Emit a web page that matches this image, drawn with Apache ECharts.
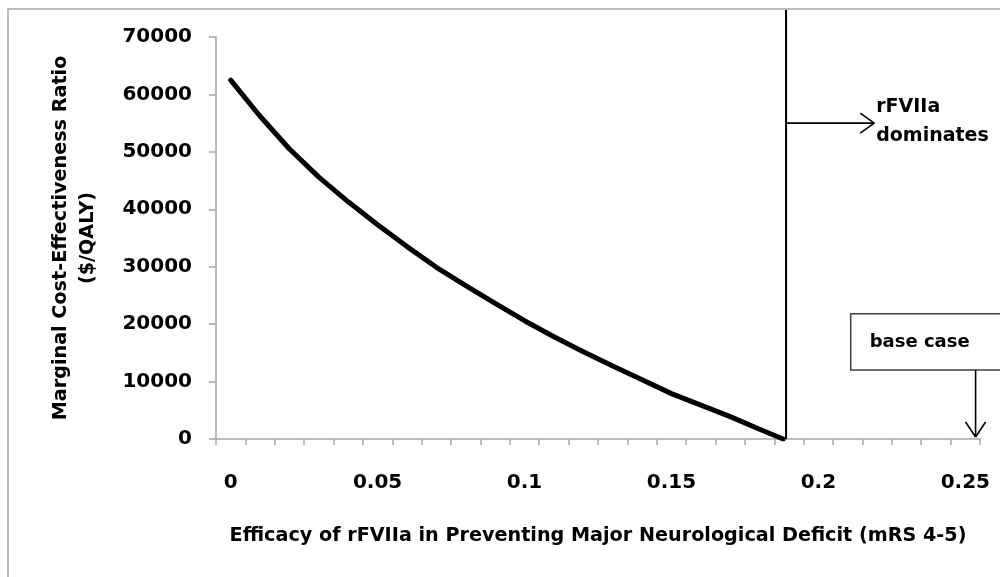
<!DOCTYPE html>
<html>
<head>
<meta charset="utf-8">
<script src="https://cdn.jsdelivr.net/npm/echarts@6/dist/echarts.min.js"></script>
<style>
html,body{margin:0;padding:0;background:#ffffff;}
#chart{width:1000px;height:577px;}
</style>
</head>
<body>
<div id="chart"></div>
<script>
// ---- data ----
const efficacy = [0, 0.01, 0.02, 0.03, 0.04, 0.05, 0.06, 0.07, 0.08, 0.09, 0.10,
                  0.11, 0.12, 0.13, 0.14, 0.15, 0.16, 0.17, 0.18, 0.188];
const costRatio = [62500, 56200, 50500, 45600, 41300, 37300, 33500, 29900, 26700, 23600, 20600,
                   17800, 15200, 12700, 10300, 7900, 5900, 3900, 1700, 0];
const xLabelValues = [0, 0.05, 0.1, 0.15, 0.2, 0.25];
const yMin = 0, yMax = 70000, yStep = 10000;
const xMin = -0.005, xMax = 0.255, xCategoryWidth = 0.01;

// annotation anchors (data coordinates)
const dominatesX = 0.189;
const dominatesArrowEndX = 0.219;
const dominatesArrowY = 55000;
const baseCaseArrowX = 0.2535;
const baseCaseBoxLeftX = 0.211;
const baseCaseBoxTopY = 21800;
const baseCaseBoxBottomY = 12000;

const FONT = 'DejaVu Sans';
const AXIS_GRAY = '#a6a6a6';

const xTickValues = [];
for (let i = 0; i <= Math.round((xMax - xMin) / xCategoryWidth); i++) {
  xTickValues.push(+(xMin + i * xCategoryWidth).toFixed(4));
}
const seriesData = efficacy.map((x, i) => [x, costRatio[i]]);

const chart = echarts.init(document.getElementById('chart'), null, {renderer: 'canvas'});

chart.setOption({
  animation: false,
  backgroundColor: '#ffffff',
  grid: {left: 216, right: 20, top: 37, bottom: 138, containLabel: false},
  xAxis: {
    type: 'value',
    min: xMin,
    max: xMax,
    name: 'Efficacy of rFVIIa in Preventing Major Neurological Deficit (mRS 4-5)',
    nameLocation: 'middle',
    nameGap: 88,
    nameTextStyle: {fontFamily: FONT, fontWeight: 'bold', fontSize: 19.2, color: '#000'},
    axisLine: {show: true, onZero: false, lineStyle: {color: AXIS_GRAY, width: 1.5}},
    axisTick: {show: true, inside: false, length: 6, customValues: xTickValues,
               lineStyle: {color: AXIS_GRAY, width: 1.5}},
    axisLabel: {show: true, customValues: xLabelValues, margin: 34,
                fontFamily: FONT, fontWeight: 'bold', fontSize: 20, color: '#000',
                formatter: v => String(v)},
    splitLine: {show: false}
  },
  yAxis: {
    type: 'value',
    min: yMin,
    max: yMax,
    interval: yStep,
    name: 'Marginal Cost-Effectiveness Ratio\n($/QALY)',
    nameLocation: 'middle',
    nameRotate: 90,
    nameGap: 114,
    nameTextStyle: {fontFamily: FONT, fontWeight: 'bold', fontSize: 19.2, color: '#000', lineHeight: 27},
    axisLine: {show: true, onZero: false, lineStyle: {color: AXIS_GRAY, width: 1.5}},
    axisTick: {show: true, inside: false, length: 7, lineStyle: {color: AXIS_GRAY, width: 1.5}},
    axisLabel: {margin: 24, fontFamily: FONT, fontWeight: 'bold', fontSize: 20, color: '#000',
                formatter: v => String(v)},
    splitLine: {show: false}
  },
  series: [{
    type: 'line',
    data: seriesData,
    showSymbol: false,
    smooth: false,
    lineStyle: {color: '#000', width: 5, cap: 'round', join: 'round'},
    z: 3
  }]
});

const P = (x, y) => chart.convertToPixel({gridIndex: 0}, [x, y]);
const [vx, vy0] = P(dominatesX, 0);
const [ax2, ay] = P(dominatesArrowEndX, dominatesArrowY);
const [bx, by0] = P(baseCaseArrowX, 0);
const [boxL, boxT] = P(baseCaseBoxLeftX, baseCaseBoxTopY);
const [, boxB] = P(baseCaseBoxLeftX, baseCaseBoxBottomY);

const blackLine = (x1, y1, x2, y2, w) => ({
  type: 'line', z: 10, silent: true,
  shape: {x1, y1, x2, y2},
  style: {stroke: '#000', lineWidth: w || 1.6}
});

chart.setOption({
  graphic: [
    // outer chart frame
    {type: 'rect', z: 1, silent: true,
     shape: {x: 8, y: 9, width: 1100, height: 700},
     style: {fill: 'none', stroke: AXIS_GRAY, lineWidth: 1.5}},
    // break-even vertical line
    blackLine(vx, 10, vx, vy0, 2),
    // "dominates" arrow
    blackLine(vx, ay, ax2, ay),
    blackLine(ax2, ay, ax2 - 14, ay - 10),
    blackLine(ax2, ay, ax2 - 14, ay + 10),
    {type: 'text', z: 10, silent: true,
     style: {x: ax2 + 2, y: ay - 31, text: 'rFVIIa\ndominates',
             fontFamily: FONT, fontWeight: 'bold', fontSize: 19, lineHeight: 29,
             fill: '#000', align: 'left', verticalAlign: 'top'}},
    // base case box
    {type: 'rect', z: 10, silent: true,
     shape: {x: boxL, y: boxT, width: 400, height: boxB - boxT},
     style: {fill: '#fff', stroke: '#404040', lineWidth: 1.5}},
    {type: 'text', z: 11, silent: true,
     style: {x: boxL + 19, y: (boxT + boxB) / 2, text: 'base case',
             fontFamily: FONT, fontWeight: 'bold', fontSize: 18,
             fill: '#000', align: 'left', verticalAlign: 'middle'}},
    // base case arrow
    blackLine(bx, boxB, bx, by0 - 2),
    blackLine(bx, by0 - 2, bx - 10, by0 - 17),
    blackLine(bx, by0 - 2, bx + 10, by0 - 17)
  ]
});
</script>
</body>
</html>
